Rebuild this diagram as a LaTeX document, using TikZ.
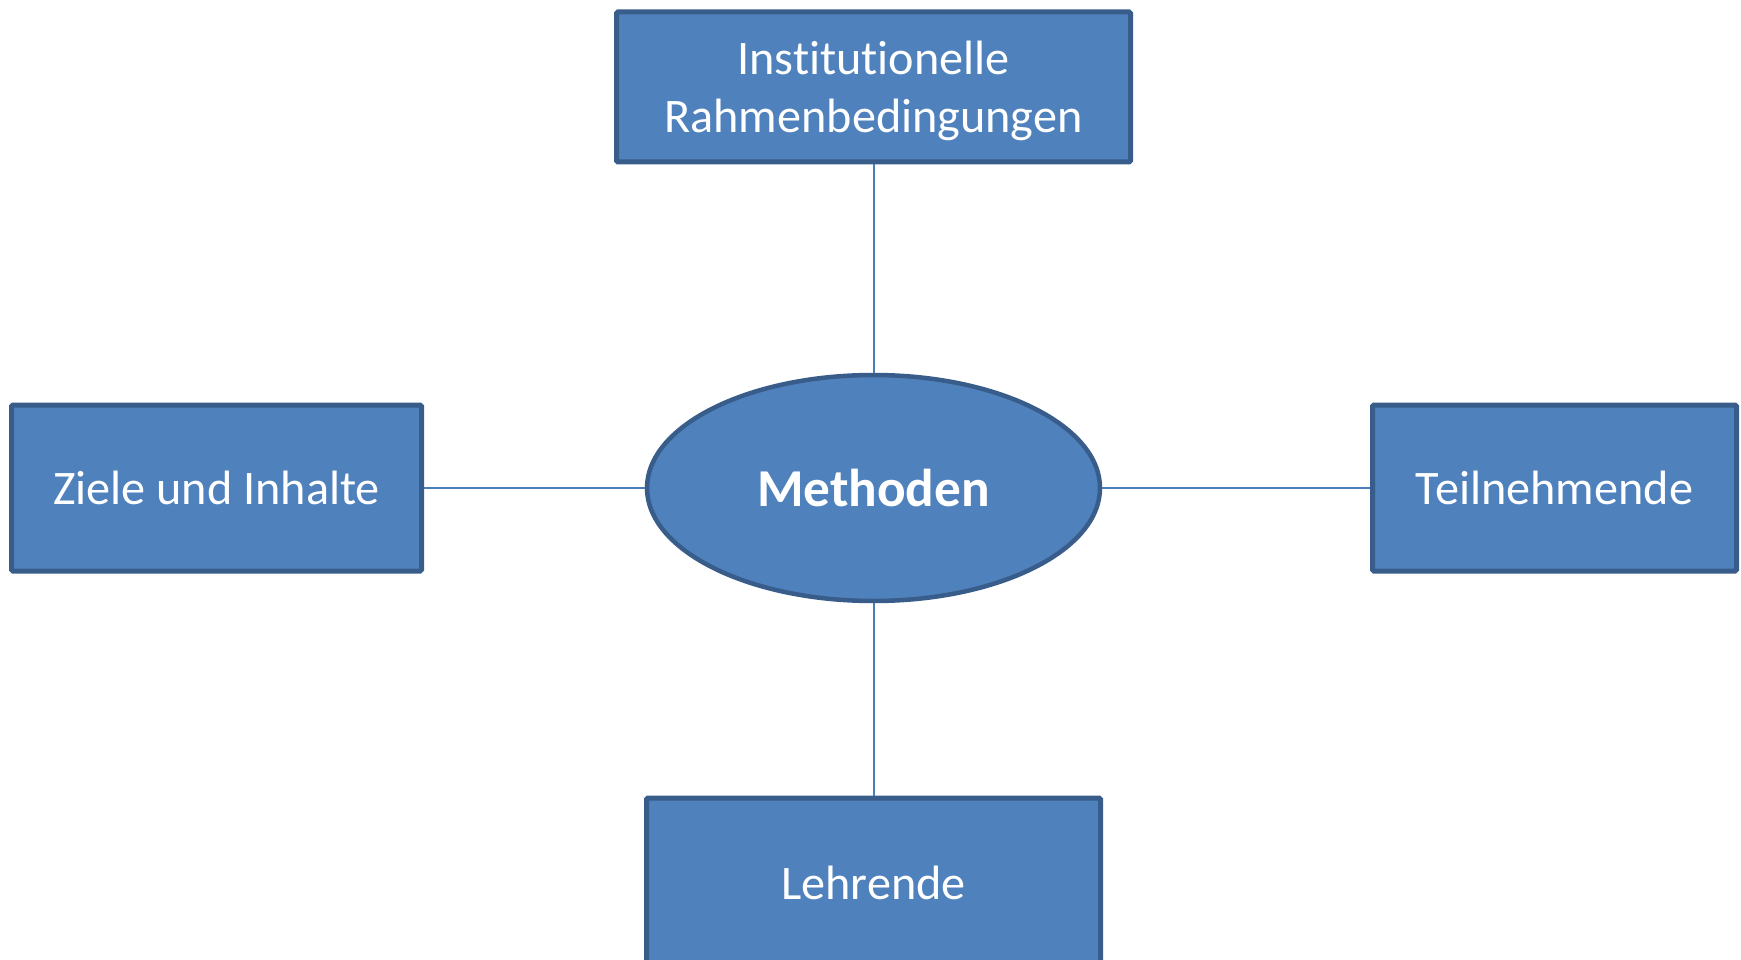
\documentclass[tikz,border=0pt]{standalone}
\usepackage{fontspec}
\setmainfont{Carlito}[Ligatures=NoCommon]
\usetikzlibrary{shapes.geometric}
\definecolor{boxfill}{HTML}{4F81BD}
\definecolor{boxdraw}{HTML}{385D8A}
\definecolor{linkcol}{HTML}{4A7EBB}
\tikzset{
  box/.style={rectangle, fill=boxfill, draw=boxdraw, line width=5pt, rounded corners=1.5pt,
    text=white, inner sep=0pt, align=center, font=\fontsize{48.2}{58}\selectfont},
  boxtext/.style={text=white, inner sep=0pt, align=center, font=\fontsize{48.2}{58}\selectfont},
  oval/.style={ellipse, fill=boxfill, draw=boxdraw, line width=4.5pt, inner sep=0pt,
    text=white, font=\fontsize{53.3}{60}\selectfont\bfseries},
  link/.style={draw=linkcol, line width=2pt}
}
\begin{document}
\begin{tikzpicture}[x=1pt,y=-1pt]
\useasboundingbox (0,0) rectangle (1741,960);
\begin{scope}
\clip (0,0) rectangle (1741,960);
\node[box, minimum width=514pt, minimum height=150pt,
  label={[boxtext, yshift=-4pt]center:{Institutionelle\\Rahmenbedingungen}}] (top) at (873.5,87) {};
\node[box, minimum width=410pt, minimum height=166pt] (left) at (216.5,488) {Ziele und Inhalte};
\node[box, minimum width=364pt, minimum height=166pt] (right) at (1554.5,488) {Teilnehmende};
\node[oval, minimum width=453pt, minimum height=226pt] (meth) at (873.5,488) {Methoden};
\node[box, minimum width=454pt, minimum height=170pt] (bot) at (873.5,883) {Lehrende};
\draw[link] (top) -- (meth);
\draw[link] (meth) -- (left);
\draw[link] (meth) -- (right);
\draw[link] (meth) -- (bot);
\end{scope}
\end{tikzpicture}
\end{document}
